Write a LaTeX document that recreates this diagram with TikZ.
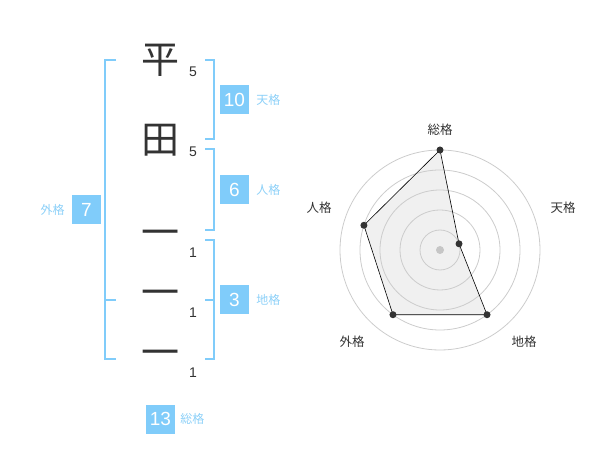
\documentclass[tikz,border=0pt]{standalone}
\usepackage{fontspec}
\setmainfont{Liberation Sans}
\newfontfamily\jp{Noto Sans CJK JP}
\usetikzlibrary{positioning}
\definecolor{kaku}{RGB}{128,204,250}
\definecolor{kakutext}{RGB}{140,208,248}
\definecolor{ink}{RGB}{51,51,51}
\begin{document}
\begin{tikzpicture}[x=1pt,y=-1pt,
        kanji/.style={text=ink,inner sep=0pt,font=\jp\fontsize{38}{38}\selectfont},
        strokes/.style={text=ink,inner sep=0pt,font=\fontsize{14}{14}\selectfont},
        kakubox/.style={fill=kaku,text=white,minimum size=29pt,inner sep=0pt,font=\fontsize{19}{19}\selectfont},
        kakuname/.style={text=kakutext,inner sep=0pt,font=\jp\fontsize{12}{12}\selectfont},
        bracket/.style={kaku,line width=1.6pt},
        radarname/.style={text=ink,inner sep=0pt,font=\jp\fontsize{12.5}{12.5}\selectfont}]
        \useasboundingbox (0,0) rectangle (600,470);
        \foreach \c/\y/\s/\sy [count=\i] in {平/60/5/72,田/140/5/152,一/238/1/253,一/298/1/313,一/358/1/373}{
            \node[kanji] (char\i) at (160,\y) {\c};
            \node[strokes] (num\i) at (193,\sy) {\s};
        }
        \draw[bracket] (116,60) -| (105,359) -- (116,359);
        \draw[bracket] (105,300) -- (116,300);
        \draw[bracket] (205,60) -| (214,139) -- (205,139);
        \draw[bracket] (205,149) -| (214,230) -- (205,230);
        \draw[bracket] (205,240) -| (214,359) -- (205,359);
        \draw[bracket] (205,300) -- (214,300);
        \node[kakubox] (ten) at (234.5,100) {10};
        \node[kakuname,right=7pt of ten] (tenname) {天格};
        \node[kakubox] (jin) at (234.5,190) {6};
        \node[kakuname,right=7pt of jin] (jinname) {人格};
        \node[kakubox] (chi) at (234.5,300) {3};
        \node[kakuname,right=7pt of chi] (chiname) {地格};
        \node[kakubox] (gai) at (86.5,210) {7};
        \node[kakuname,left=7pt of gai] (gainame) {外格};
        \node[kakubox] (sou) at (160.5,419) {13};
        \node[kakuname,right=5pt of sou] (souname) {総格};
        \coordinate (c) at (440,250);
        \foreach \v [count=\i from 0] in {5,1,4,4,4} \coordinate (p\i) at ([shift={(-90+72*\i:20*\v)}]c);
        \fill[gray!12] (p0) -- (p1) -- (p2) -- (p3) -- (p4) -- cycle;
        \foreach \r in {20,40,...,100} \draw[gray!40,line width=0.8pt] (c) circle (\r pt);
        \draw[black,line width=0.6pt] (p0) -- (p1) -- (p2) -- (p3) -- (p4) -- cycle;
        \fill[gray!45] (c) circle (4pt);
        \foreach \i in {0,...,4} \fill[ink] (p\i) circle (3.5pt);
        \foreach \t/\x/\y [count=\i from 0] in {総格/440/130,天格/563/208,地格/524/342,外格/352/342,人格/319/208}
            \node[radarname] (axis\i) at (\x,\y) {\t};
    \end{tikzpicture}
\end{document}
